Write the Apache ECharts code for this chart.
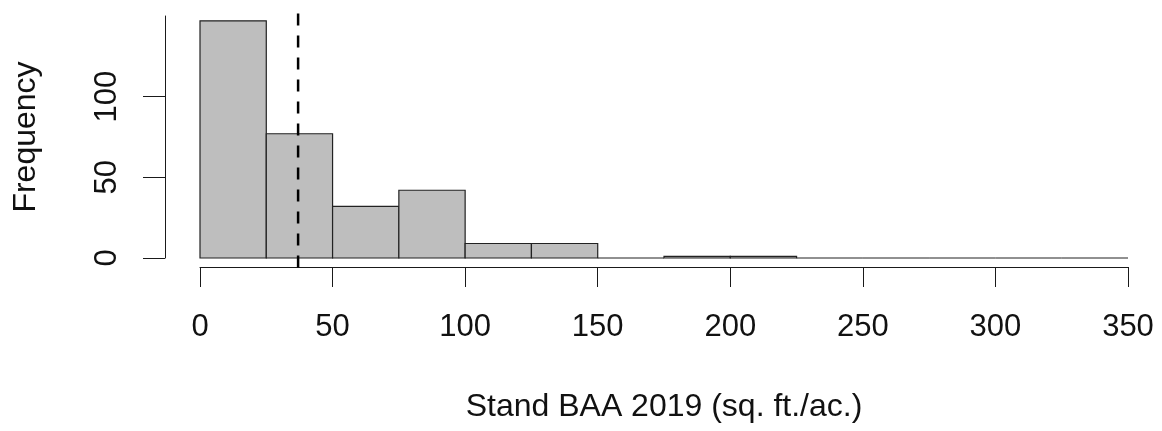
<!DOCTYPE html>
<html>
<head>
<meta charset="utf-8">
<style>
html,body{margin:0;padding:0;background:#fff;}
#chart{width:1162px;height:431px;}
</style>
<script src="https://cdn.jsdelivr.net/npm/echarts@6/dist/echarts.min.js"></script>
</head>
<body>
<div id="chart"></div>
<script>
// ---- data ----
const binStarts = [0, 25, 50, 75, 100, 125, 150, 175, 200, 225, 250, 275, 300, 325];
const binWidth = 25;
const counts = [147, 77, 32, 42, 9, 9, 0, 1, 1, 0, 0, 0, 0, 0];
const meanValue = 37;
const xTickValues = [0, 50, 100, 150, 200, 250, 300, 350];
const yTickValues = [0, 50, 100, 150];
const xTitle = 'Stand BAA 2019 (sq. ft./ac.)';
const yTitle = 'Frequency';

const FONT = '"Liberation Sans", Arial, sans-serif';
const INK = '#1a1a1a';

const barData = binStarts.map((s, i) => [s, s + binWidth, counts[i]]);
const yPad = 0.04 * Math.max(...counts);

const chart = echarts.init(document.getElementById('chart'), null, {renderer: 'canvas'});
chart.setOption({
  animation: false,
  backgroundColor: '#ffffff',
  grid: {left: 200, right: 34, top: 16, bottom: 173, containLabel: false},
  xAxis: {
    type: 'value',
    min: xTickValues[0],
    max: xTickValues[xTickValues.length - 1],
    interval: 50,
    offset: 9,
    splitLine: {show: false},
    axisLine: {show: true, onZero: false, lineStyle: {color: INK, width: 1}},
    axisTick: {show: true, length: 20, lineStyle: {color: INK, width: 1}},
    axisLabel: {color: '#111', fontFamily: FONT, fontSize: 31, margin: 45},
    name: xTitle,
    nameLocation: 'middle',
    nameGap: 124,
    nameTextStyle: {color: '#111', fontFamily: FONT, fontSize: 32}
  },
  yAxis: {
    type: 'value',
    min: yTickValues[0],
    max: yTickValues[yTickValues.length - 1],
    interval: 50,
    offset: 35,
    splitLine: {show: false},
    axisLine: {show: true, onZero: false, lineStyle: {color: INK, width: 1}},
    axisTick: {show: true, length: 22, lineStyle: {color: INK, width: 1}},
    axisLabel: {color: '#111', fontFamily: FONT, fontSize: 31, margin: 42, rotate: 90, showMaxLabel: false},
    name: yTitle,
    nameLocation: 'middle',
    nameRotate: 90,
    nameGap: 123,
    nameTextStyle: {color: '#111', fontFamily: FONT, fontSize: 32}
  },
  series: [
    {
      type: 'custom',
      data: barData,
      encode: {x: [0, 1], y: 2},
      clip: false,
      renderItem: function (params, api) {
        const p0 = api.coord([api.value(0), 0]);
        const p1 = api.coord([api.value(1), api.value(2)]);
        return {
          type: 'rect',
          shape: {x: p0[0], y: p1[1], width: p1[0] - p0[0], height: p0[1] - p1[1]},
          style: {fill: '#bebebe', stroke: '#222', lineWidth: 1.2}
        };
      }
    },
    {
      type: 'custom',
      data: [[meanValue]],
      encode: {x: 0},
      clip: false,
      z: 5,
      renderItem: function (params, api) {
        const top = api.coord([api.value(0), Math.max(...counts) + yPad]);
        const bot = api.coord([api.value(0), -yPad]);
        return {
          type: 'line',
          shape: {x1: bot[0], y1: bot[1], x2: top[0], y2: top[1]},
          style: {stroke: '#000', lineWidth: 2.5, lineDash: [12, 10]}
        };
      }
    }
  ]
});
</script>
</body>
</html>
